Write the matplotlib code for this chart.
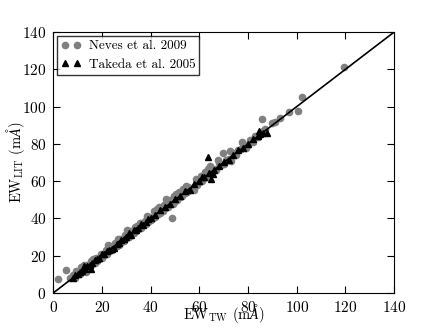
import matplotlib
matplotlib.use("Agg")
import matplotlib.pyplot as plt

plt.rcParams['font.family'] = 'cmr10'
plt.rcParams['mathtext.fontset'] = 'cm'
plt.rcParams['axes.formatter.use_mathtext'] = True

# Neves et al. 2009 (EW_TW, EW_LIT)
neves_x = [2.1, 5.3, 7, 8, 9, 9.5, 10, 11, 11.5, 12, 13, 13.5, 14, 15, 15.5, 16, 17, 17.5, 18, 19,
           19.5, 20, 21, 21.5, 22, 23, 23.5, 24, 25, 25.5, 26, 27, 27.5, 28, 29, 29.5, 30, 31, 31.5, 32,
           33, 33.5, 34, 35, 35.5, 36, 37, 37.5, 38, 39, 39.5, 40, 41, 41.5, 42, 43, 43.5, 44, 45, 45.5,
           46, 47, 47.5, 48, 48.9, 49, 49.5, 50, 51, 51.5, 52, 53, 53.5, 54, 55, 55.5, 56, 57, 58, 58.5,
           59, 60, 60.5, 61, 62, 62.5, 63, 64, 64.5, 65, 66, 67, 68, 69, 69.8, 70, 71, 72, 73, 74,
           75, 76, 77, 78, 79, 80, 81, 82, 83, 84, 85.8, 86, 87, 90, 91, 93, 97, 100.6, 102, 119.5,
           12.5, 16.5, 22.5, 26.5, 30.5, 34.5, 38.5, 42.5, 46.5, 50.5, 54.5, 58, 63.5, 67.5, 72.5, 77.5]
neves_y = [7.5, 12.5, 8, 9.5, 8, 12, 11, 10, 14, 12, 13.5, 11.5, 15, 14, 17, 15.5, 16, 19, 17, 18.5,
           21, 19, 20.5, 23, 21, 22.5, 25, 23, 24.5, 27, 25, 26, 29, 27.5, 28, 31, 29.5, 30, 33, 31.5,
           32, 35.5, 33, 34.5, 37.5, 35, 36.5, 38.5, 37, 38, 41, 39, 40.5, 44, 41, 42.5, 46, 43, 44, 47,
           45.5, 46, 49.5, 50, 40.2, 48, 52, 49.5, 50, 54, 51.5, 52, 56, 53.5, 54, 57, 55, 56.5, 57, 61,
           58, 59.5, 63, 60, 61.5, 65, 62, 65.5, 68, 64, 66.5, 66, 70, 68.5, 75, 69, 71.5, 72, 71, 75,
           74, 76.5, 77, 80, 78, 79.5, 82, 81, 84, 83.5, 93.3, 87, 88, 91, 92, 94, 97, 97.6, 105, 121,
           15, 18.5, 25.5, 29, 34, 36, 41.5, 45, 50.5, 53, 57.5, 55.5, 66.5, 71.5, 76, 81]

# Takeda et al. 2005 (EW_TW, EW_LIT)
takeda_x = [8, 9, 10, 11, 12, 12.5, 13, 14, 15, 15.5, 16, 17, 18, 19, 20, 21, 22, 23, 24, 25,
            26, 27, 28, 29, 30, 31, 32, 33, 34, 35, 36, 37, 38, 39, 40, 42, 44, 46, 48, 50,
            52, 54, 56, 58, 60, 61, 62, 63.6, 64, 65, 65.7, 66, 68, 70, 72, 74, 76, 78, 80, 82,
            84, 84.6, 85, 86, 87.8]
takeda_y = [8, 9.5, 10, 11.5, 12, 14.5, 13, 14.5, 15, 13, 16, 17.5, 18, 19, 21, 21, 22.5, 23, 23.5, 24,
            26.5, 27, 28.5, 29, 30, 32, 31, 34, 34, 35, 37, 36.5, 38, 39.5, 40, 42, 44.5, 46, 48, 50.5,
            52, 54.5, 55.5, 58.5, 60, 62, 62, 73, 64.5, 61, 63.8, 66, 68, 70.5, 71.5, 74, 76.5, 78, 80, 82.5,
            84, 87, 85.5, 86, 85.8]

one_to_one = [0, 140]

fig = plt.figure(figsize=(4.36, 3.27), dpi=100)
ax = fig.add_axes([0.122, 0.104, 0.782, 0.798])

ax.plot(neves_x, neves_y, 'o', color='#808080', markeredgecolor='#808080',
        markersize=4.5, label='Neves et al. 2009')
ax.plot(takeda_x, takeda_y, '^', color='black', markersize=3.8, label='Takeda et al. 2005')
ax.plot(one_to_one, one_to_one, '-', color='black', lw=1.2)

ax.set_xlim(0, 140)
ax.set_ylim(0, 140)
ax.set_xticks(range(0, 141, 20))
ax.set_yticks(range(0, 141, 20))
ax.tick_params(direction='in', top=True, right=True, labelsize=11, length=5, pad=5)

# axis labels placed by their baselines
ax.set_xlabel(r'EW$_{\rm TW}$ (m$\AA$)', fontsize=10.5, va='baseline')
ax.set_ylabel(r'EW$_{\rm LIT}$ (m$\AA$)', fontsize=10.5, va='baseline',
              rotation_mode='anchor', ha='center')
ax.xaxis.set_label_coords(0.5, -0.098)
ax.yaxis.set_label_coords(-0.094, 0.5)

leg = ax.legend(loc='upper left', numpoints=2, fontsize=9.5, fancybox=False,
                borderaxespad=0.3, handlelength=1.5, handletextpad=0.6,
                borderpad=0.3, labelspacing=0.5)
leg.get_frame().set_edgecolor('black')
leg.get_frame().set_linewidth(1.0)

fig.savefig('out.png', dpi=100)
